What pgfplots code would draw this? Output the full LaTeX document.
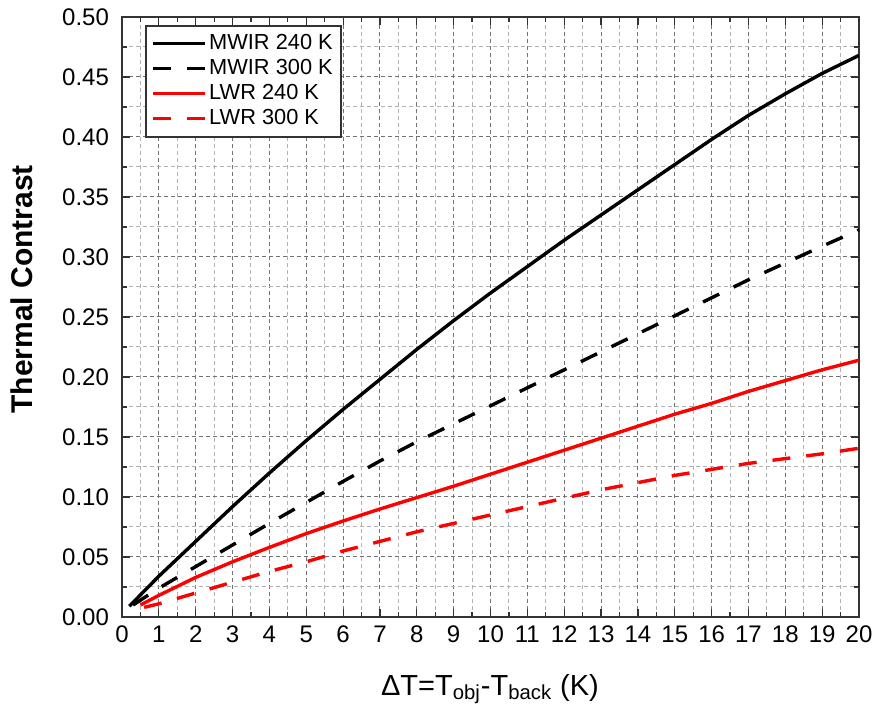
\documentclass[border=0pt]{standalone}
\usepackage{fontspec}
\setmainfont{Liberation Sans}
\usepackage{pgfplots}
\pgfplotsset{compat=1.18}
\begin{document}
\begin{tikzpicture}
\useasboundingbox (-61pt,-46.5pt) rectangle (377pt,308.5pt);
\begin{axis}[
  at={(0pt,0pt)}, anchor=south west,
  scale only axis, width=368.5pt, height=300pt,
  xmin=0, xmax=20, ymin=0, ymax=0.5,
  xtick={0,1,...,20}, minor x tick num=1,
  ytick={0,0.05,0.10,0.15,0.20,0.25,0.30,0.35,0.40,0.45,0.50},
  minor y tick num=1,
  grid=both,
  major grid style={dash pattern=on 2pt off 1.5pt, black!55, line width=0.5pt},
  minor grid style={dash pattern=on 2pt off 1.5pt, black!30, line width=0.5pt},
  tick align=inside, tick pos=both,
  major tick length=4pt, minor tick length=2.5pt,
  axis line style={line width=0.8pt, black!80},
  every tick/.style={black!80, line width=0.6pt},
  ticklabel style={font=\fontsize{12}{14}\selectfont},
  /pgf/number format/assume math mode=true,
  yticklabel style={xshift=-3pt, /pgf/number format/.cd, fixed, fixed zerofill, precision=2},
  xticklabel style={yshift=-1pt, /pgf/number format/.cd, fixed, precision=0},
  xlabel={ΔT=T\textsubscript{obj}-T\textsubscript{back} (K)},
  ylabel={\bfseries Thermal Contrast},
  xlabel style={font=\fontsize{14.5}{16}\selectfont, at={(axis description cs:0.4993,0)}, anchor=base, yshift=-39pt},
  ylabel style={font=\fontsize{15}{17}\selectfont, at={(axis description cs:-0.1208,0.546)}, anchor=base},
  legend style={at={(0.0312,0.9867)}, anchor=north west, draw=black!80, line width=0.8pt,
    font=\fontsize{10.9}{12}\selectfont, row sep=0.5pt, inner xsep=3pt, inner ysep=3pt,
    nodes={inner sep=1pt, text height=8pt, text depth=2pt}},
  legend cell align=left,
  legend image code/.code={\draw[#1] (0pt,0pt) -- (26pt,0pt);},
]
\addplot[black, line width=1.7pt] coordinates {
(0.2,0.009)(1,0.034)(2,0.063)(3,0.092)(4,0.120)(5,0.147)(6,0.173)(7,0.198)(8,0.223)(9,0.247)(10,0.270)(11,0.292)(12,0.314)(13,0.335)(14,0.356)(15,0.377)(16,0.398)(17,0.418)(18,0.436)(19,0.453)(20,0.468)};
\addlegendentry{MWIR 240 K}
\addplot[black, line width=1.7pt, dash pattern=on 9pt off 8pt] coordinates {
(0.3,0.010)(1,0.024)(2,0.042)(3,0.060)(4,0.078)(5,0.0955)(6,0.113)(7,0.130)(8,0.146)(9,0.161)(10,0.176)(11,0.191)(12,0.206)(13,0.221)(14,0.236)(15,0.251)(16,0.266)(17,0.281)(18,0.295)(19,0.309)(20,0.3225)};
\addlegendentry{MWIR 300 K}
\addplot[red, line width=1.7pt] coordinates {
(0.5,0.010)(1,0.018)(2,0.033)(3,0.046)(4,0.058)(5,0.0695)(6,0.080)(7,0.090)(8,0.0995)(9,0.109)(10,0.119)(11,0.129)(12,0.139)(13,0.149)(14,0.159)(15,0.169)(16,0.178)(17,0.188)(18,0.197)(19,0.206)(20,0.214)};
\addlegendentry{LWR 240 K}
\addplot[red, line width=1.7pt, dash pattern=on 9pt off 8pt] coordinates {
(0.6,0.008)(1,0.011)(2,0.020)(3,0.029)(4,0.038)(5,0.046)(6,0.055)(7,0.063)(8,0.071)(9,0.078)(10,0.085)(11,0.092)(12,0.099)(13,0.106)(14,0.112)(15,0.118)(16,0.123)(17,0.128)(18,0.132)(19,0.136)(20,0.1406)};
\addlegendentry{LWR 300 K}
\end{axis}
\end{tikzpicture}
\end{document}
